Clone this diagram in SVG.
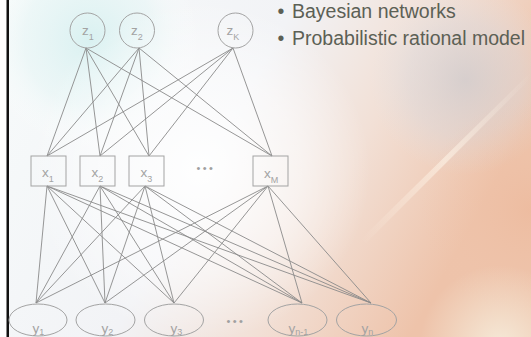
<svg xmlns="http://www.w3.org/2000/svg" width="531" height="337" viewBox="0 0 531 337">
<defs>
<linearGradient id="bg" x1="0" y1="0" x2="1" y2="0.35">
<stop offset="0" stop-color="#f7fbfb"/>
<stop offset="0.5" stop-color="#f2f3f6"/>
<stop offset="0.74" stop-color="#f2e0d6"/>
<stop offset="1" stop-color="#eec3aa"/>
</linearGradient>
<radialGradient id="cyan" cx="90" cy="40" r="110" gradientUnits="userSpaceOnUse">
<stop offset="0" stop-color="#d9f1f1" stop-opacity="1"/>
<stop offset="0.6" stop-color="#e6f5f5" stop-opacity="0.6"/>
<stop offset="1" stop-color="#ffffff" stop-opacity="0"/>
</radialGradient>
<radialGradient id="white" cx="200" cy="170" r="170" gradientUnits="userSpaceOnUse">
<stop offset="0" stop-color="#ffffff" stop-opacity="0.95"/>
<stop offset="0.6" stop-color="#ffffff" stop-opacity="0.5"/>
<stop offset="1" stop-color="#ffffff" stop-opacity="0"/>
</radialGradient>
<radialGradient id="gray" cx="465" cy="80" r="95" gradientUnits="userSpaceOnUse">
<stop offset="0" stop-color="#c9ccd3" stop-opacity="0.65"/>
<stop offset="0.6" stop-color="#d6d9e0" stop-opacity="0.4"/>
<stop offset="1" stop-color="#e0e4ea" stop-opacity="0"/>
</radialGradient>
<radialGradient id="peach" cx="531" cy="210" r="110" gradientUnits="userSpaceOnUse">
<stop offset="0" stop-color="#edb99c" stop-opacity="0.7"/>
<stop offset="1" stop-color="#efc6ae" stop-opacity="0"/>
</radialGradient>
<radialGradient id="cream" cx="500" cy="345" r="80" gradientUnits="userSpaceOnUse">
<stop offset="0" stop-color="#f6eddc" stop-opacity="0.9"/>
<stop offset="1" stop-color="#f6eddc" stop-opacity="0"/>
</radialGradient>
<linearGradient id="streak" x1="0" y1="0" x2="1" y2="0">
<stop offset="0" stop-color="#fff6ea" stop-opacity="0"/>
<stop offset="0.5" stop-color="#fff6ea" stop-opacity="0.8"/>
<stop offset="1" stop-color="#fff6ea" stop-opacity="0"/>
</linearGradient>
<style>
.edge{stroke:#8a8a8a;stroke-width:0.9;fill:none}
.node{fill:none;stroke:#a3a3a3;stroke-width:1}
.lbl{font-family:"Liberation Sans",Arial,sans-serif;font-size:13.5px;fill:#a3a3a3}
.sub{font-size:9px}
.bul{font-family:"Liberation Sans",Arial,sans-serif;font-size:19.5px;fill:#5c6055}
.dots{font-family:"Liberation Sans",Arial,sans-serif;font-size:11px;fill:#a0a0a0;letter-spacing:2.4px}
</style>
</defs>
<g id="background">
<rect x="0" y="0" width="531" height="337" fill="url(#bg)"/>
<rect x="0" y="0" width="531" height="337" fill="url(#cyan)"/>
<rect x="0" y="0" width="531" height="337" fill="url(#white)"/>
<rect x="0" y="0" width="531" height="337" fill="url(#gray)"/>
<rect x="0" y="0" width="531" height="337" fill="url(#peach)"/>
<rect x="0" y="0" width="531" height="337" fill="url(#cream)"/>
<path d="M360 240 L531 72 L531 78 L366 243 Z" fill="url(#streak)" opacity="0.7"/>
<rect x="0" y="0" width="7" height="337" fill="#ffffff"/>
<rect x="6.5" y="0" width="2.5" height="337" fill="#111111"/>
</g>
<g id="title">
<text class="bul" x="277.5" y="18">•</text>
<text class="bul" x="292" y="18">Bayesian networks</text>
<text class="bul" x="277.5" y="45">•</text>
<text class="bul" x="292" y="45">Probabilistic rational model</text>
</g>
<g id="connectors">
<line class="edge" x1="86" y1="48" x2="47" y2="156"/>
<line class="edge" x1="86" y1="48" x2="100" y2="156"/>
<line class="edge" x1="86" y1="48" x2="149" y2="156"/>
<line class="edge" x1="86" y1="48" x2="272" y2="156"/>
<line class="edge" x1="139" y1="48" x2="47" y2="156"/>
<line class="edge" x1="139" y1="48" x2="100" y2="156"/>
<line class="edge" x1="139" y1="48" x2="149" y2="156"/>
<line class="edge" x1="139" y1="48" x2="272" y2="156"/>
<line class="edge" x1="233" y1="48" x2="47" y2="156"/>
<line class="edge" x1="233" y1="48" x2="100" y2="156"/>
<line class="edge" x1="233" y1="48" x2="149" y2="156"/>
<line class="edge" x1="233" y1="48" x2="272" y2="156"/>
<line class="edge" x1="47" y1="186" x2="36" y2="303"/>
<line class="edge" x1="47" y1="186" x2="105" y2="303"/>
<line class="edge" x1="47" y1="186" x2="174" y2="303"/>
<line class="edge" x1="47" y1="186" x2="302" y2="303"/>
<line class="edge" x1="47" y1="186" x2="371" y2="303"/>
<line class="edge" x1="100" y1="186" x2="36" y2="303"/>
<line class="edge" x1="100" y1="186" x2="105" y2="303"/>
<line class="edge" x1="100" y1="186" x2="174" y2="303"/>
<line class="edge" x1="100" y1="186" x2="302" y2="303"/>
<line class="edge" x1="100" y1="186" x2="371" y2="303"/>
<line class="edge" x1="145" y1="186" x2="36" y2="303"/>
<line class="edge" x1="145" y1="186" x2="105" y2="303"/>
<line class="edge" x1="145" y1="186" x2="174" y2="303"/>
<line class="edge" x1="145" y1="186" x2="302" y2="303"/>
<line class="edge" x1="145" y1="186" x2="371" y2="303"/>
<line class="edge" x1="268" y1="186" x2="36" y2="303"/>
<line class="edge" x1="268" y1="186" x2="105" y2="303"/>
<line class="edge" x1="268" y1="186" x2="174" y2="303"/>
<line class="edge" x1="268" y1="186" x2="302" y2="303"/>
<line class="edge" x1="268" y1="186" x2="371" y2="303"/>
</g>
<g id="z1"><circle class="node" cx="87.5" cy="30.5" r="17.5"/><text class="lbl" x="82" y="35">z<tspan class="sub" dy="4.5">1</tspan></text></g>
<g id="z2"><circle class="node" cx="137" cy="30.5" r="17.5"/><text class="lbl" x="131" y="35">z<tspan class="sub" dy="4.5">2</tspan></text></g>
<g id="zK"><circle class="node" cx="235.5" cy="30.5" r="17.5"/><text class="lbl" x="226.5" y="35">z<tspan class="sub" dy="4.5">K</tspan></text></g>
<g id="x1"><rect class="node" x="31" y="156" width="35" height="30"/><text class="lbl" x="42" y="177">x<tspan class="sub" dy="5">1</tspan></text></g>
<g id="x2"><rect class="node" x="80" y="156" width="35" height="30"/><text class="lbl" x="91.5" y="177">x<tspan class="sub" dy="5">2</tspan></text></g>
<g id="x3"><rect class="node" x="129" y="156" width="35" height="30"/><text class="lbl" x="140.5" y="177">x<tspan class="sub" dy="5">3</tspan></text></g>
<g id="xdots"><text class="dots" x="196.5" y="172">•••</text></g>
<g id="xM"><rect class="node" x="253" y="156" width="35" height="30"/><text class="lbl" x="264" y="178">x<tspan class="sub" dy="5">M</tspan></text></g>
<g id="y1"><ellipse class="node" cx="38" cy="320" rx="29" ry="16"/><text class="lbl" x="32.5" y="333">y<tspan class="sub" dy="2">1</tspan></text></g>
<g id="y2"><ellipse class="node" cx="105.5" cy="320" rx="29.5" ry="16"/><text class="lbl" x="101.5" y="333">y<tspan class="sub" dy="2">2</tspan></text></g>
<g id="y3"><ellipse class="node" cx="174" cy="320" rx="29.5" ry="16"/><text class="lbl" x="170.5" y="333">y<tspan class="sub" dy="2">3</tspan></text></g>
<g id="ydots"><text class="dots" x="226.5" y="324.5">•••</text></g>
<g id="yn-1"><ellipse class="node" cx="297.5" cy="320" rx="29.5" ry="16"/><text class="lbl" x="288.5" y="333">y<tspan class="sub" dy="2">n-1</tspan></text></g>
<g id="yn"><ellipse class="node" cx="366.5" cy="320" rx="30" ry="16"/><text class="lbl" x="361.5" y="333">y<tspan class="sub" dy="2">n</tspan></text></g>
</svg>
